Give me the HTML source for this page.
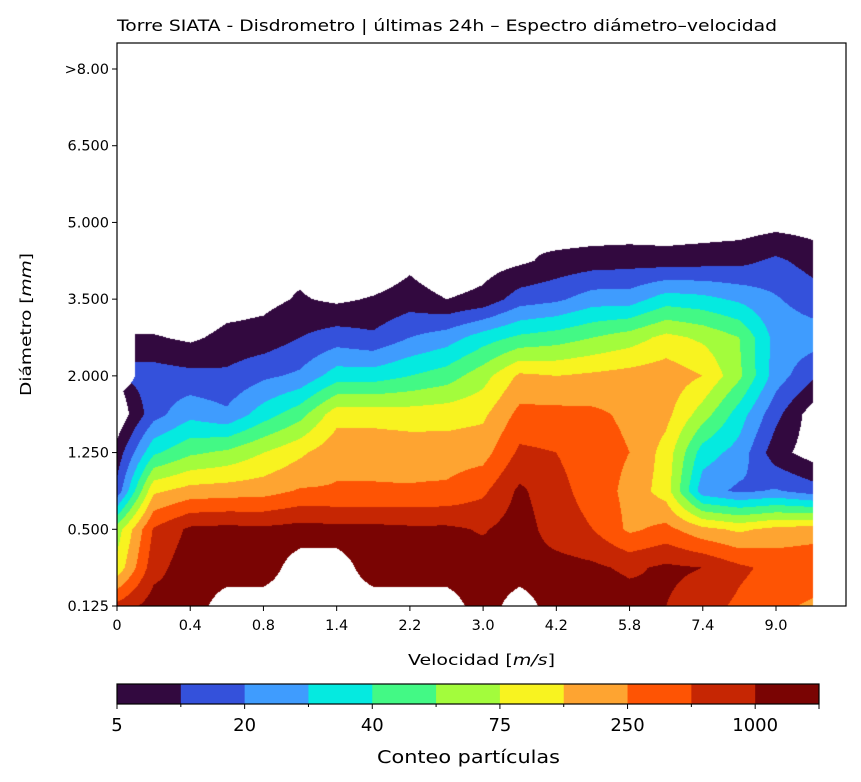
<!DOCTYPE html>
<html><head><meta charset="utf-8"><style>
body{margin:0;background:#fff;width:861px;height:782px;overflow:hidden;font-family:"Liberation Sans","DejaVu Sans",sans-serif}
#wrap{position:relative;width:861px;height:782px}
canvas{position:absolute;left:0;top:0}
svg{position:absolute;left:0;top:0}
text{font-family:"DejaVu Sans","Liberation Sans",sans-serif;fill:#000}
</style></head><body>
<div id="wrap">
<canvas id="cv" width="861" height="782"></canvas>
<svg id="sv" width="861" height="782"></svg>
</div>
<script>
// x tick labels (velocity bins) and y tick labels (diameter bins)
const xTickLabels = ["0","0.4","0.8","1.4","2.2","3.0","4.2","5.8","7.4","9.0"];
const yTickLabels = ["0.125","0.500","1.250","2.000","3.500","5.000","6.500",">8.00"];
const levelLabels = ["5","","20","","40","","75","","250","","1000",""];
const bandColors = ["#32093f","#3451db","#3f9cfe","#05eae0","#43f985","#a3fc3c","#f8f320","#fea431","#fe5404","#c62603","#7a0403"];
// count band value per grid node; columns = velocity bins, rows (bottom->top) = diameter bins; null = no data
const col0  = [9.3,6.3,5.5,1.3,0.4,-0.8,null,null,null,null,null];
const col1  = [10.5,9.6,9.1,6.8,3.8,1.6,1.5,0.1,-1,null,null];
const col2  = [10.3,10.6,10.2,7.4,4.8,2.7,1.3,-0.2,-1,null,null];
const col3  = [null,10.8,10.3,7.5,5.2,2.2,1.2,0.3,-0.5,null,null];
const col4  = [null,10.7,10.2,7.6,6.0,3.5,1.8,0.4,-0.3,null,null];
const col5  = [null,null,10.4,8.1,6.8,4.6,2.2,1.0,0.1,-0.3,null];
const col6  = [null,null,10.3,8.1,7.7,6.6,3.5,1.5,-0.2,-1,null];
const col7  = [null,10.3,10.3,8.1,7.7,6.6,3.5,1.2,0.1,-1,null];
const col8  = [null,10.5,10.2,8.1,7.6,6.5,4.0,2.0,0.5,-0.3,null];
const col9  = [null,10.2,10.2,8.2,7.5,6.6,4.5,2.5,0.0,-1,null];
const col10 = [10.5,10.5,9.9,8.8,7.6,6.8,5.6,3.5,0.3,-0.5,null];
const col11 = [null,10.3,10.5,10.2,9.2,8.3,7.2,4.2,1.5,-0.2,null];
const col12 = [10.8,10.4,9.5,9.3,9.0,8.3,7.0,4.5,1.8,0.3,-0.8];
const col13 = [10.7,10.2,9.0,8.6,8.5,8.2,7.2,5.0,2.5,0.5,-0.8];
const col14 = [10.5,9.8,7.8,7.7,8.0,7.8,7.4,5.5,2.5,0.6,-0.8];
const col15 = [10.0,10.2,8.3,6.5,6.6,7.3,7.6,6.3,3.5,0.5,-0.8];
const col16 = [9.4,10.0,7.3,2.4,3.5,5.5,7.0,5.8,3.3,0.6,-0.7];
const col17 = [8.8,9.2,6.8,1.8,2.6,3.5,5.2,5.0,2.8,0.7,-0.6];
const col18 = [8.3,8.7,7.3,2.1,0.4,1.3,2.5,2.6,2.1,1.2,-0.4];
const col19 = [7.8,8.8,7.5,1.5,-0.5,-0.5,1.2,2.5,1.5,0.6,-0.5];
const grid = [col0,col1,col2,col3,col4,col5,col6,col7,col8,col9,col10,col11,col12,col13,col14,col15,col16,col17,col18,col19];

const PL=117, PR=846, PT=43, PB=606;
const XSTEP=(776-117)/18, YSTEP=(606-69)/14;
function xPix(i){return PL+i*XSTEP;}
function yPix(j){return PB-j*YSTEP;}

// draw field
const cv=document.getElementById('cv'), ctx=cv.getContext('2d');
const img=ctx.createImageData(861,782);
function hex(c){return [parseInt(c.substr(1,2),16),parseInt(c.substr(3,2),16),parseInt(c.substr(5,2),16)];}
const rgb=bandColors.map(hex);
const NX=grid.length, NY=grid[0].length;
for(let py=PT;py<PB;py++){
  for(let px=PL;px<PR;px++){
    const u=(px+0.5-PL)/XSTEP, v=(PB-(py+0.5))/YSTEP;
    if(u>NX-1||v>NY-1) continue;
    let i=Math.min(Math.floor(u),NX-2), j=Math.min(Math.floor(v),NY-2);
    const fu=u-i, fv=v-j;
    const c=[[grid[i][j],(1-fu)*(1-fv)],[grid[i+1][j],fu*(1-fv)],[grid[i][j+1],(1-fu)*fv],[grid[i+1][j+1],fu*fv]];
    let ws=0,s=0,wn=0;
    for(const [val,w] of c){ if(val===null) wn+=w; else {ws+=w;s+=val*w;} }
    if(wn>0.5||ws===0) continue;
    const val=s/ws;
    if(val<0) continue;
    const b=Math.min(10,Math.floor(val));
    const k=(py*861+px)*4, col=rgb[b];
    img.data[k]=col[0];img.data[k+1]=col[1];img.data[k+2]=col[2];img.data[k+3]=255;
  }
}
ctx.putImageData(img,0,0);

// axes
const NS='http://www.w3.org/2000/svg', sv=document.getElementById('sv');
function el(t,a,txt){const e=document.createElementNS(NS,t);for(const k in a)e.setAttribute(k,a[k]);if(txt!==undefined)e.textContent=txt;sv.appendChild(e);return e;}
let e;
e=el('rect',{x:PL,y:PT,width:PR-PL,height:PB-PT,fill:'none',stroke:'#000','stroke-width':1.2});


e=el('text',{x:117,y:31,'font-size':16,textLength:660,lengthAdjust:'spacingAndGlyphs'},'Torre SIATA - Disdrometro | últimas 24h – Espectro diámetro–velocidad');


xTickLabels.forEach((t,k)=>{
  const x=xPix(2*k);
  e=el('line',{x1:x,x2:x,y1:PB,y2:PB+5,stroke:'#000','stroke-width':1});
  
  
  e=el('text',{x:x,y:PB+24,'font-size':14.5,'text-anchor':'middle'},t);
  
  
});
yTickLabels.forEach((t,k)=>{
  const y=yPix(2*k);
  e=el('line',{x1:PL-5,x2:PL,y1:y,y2:y,stroke:'#000','stroke-width':1});
  
  
  e=el('text',{x:PL-8,y:y+5,'font-size':14.5,'text-anchor':'end'},t);
  
  
});
e=el('text',{x:408,y:665,'font-size':15.5,textLength:147,lengthAdjust:'spacingAndGlyphs'});
e.innerHTML='Velocidad [<tspan font-style="italic">m/s</tspan>]';


e=el('text',{x:-396,y:31,'font-size':15.5,transform:'rotate(-90)',textLength:143,lengthAdjust:'spacingAndGlyphs'});
e.innerHTML='Diámetro [<tspan font-style="italic">mm</tspan>]';



// colorbar
const CL=117, CR=819, CT=684, CB=704, bw=(CR-CL)/bandColors.length;
bandColors.forEach((c,k)=>{
  e=el('rect',{x:CL+k*bw,y:CT,width:bw+0.5,height:CB-CT,fill:c});
  
  
});
e=el('rect',{x:CL,y:CT,width:CR-CL,height:CB-CT,fill:'none',stroke:'#000','stroke-width':1.2});


levelLabels.forEach((t,k)=>{
  const x=CL+k*bw;
  e=el('line',{x1:x,x2:x,y1:CB,y2:CB+(t?5:3),stroke:'#000','stroke-width':1});
  
  
  if(t){
    e=el('text',{x:x,y:CB+27,'font-size':18,'text-anchor':'middle'},t);
    
    
  }
});
e=el('line',{x1:CR,x2:CR,y1:CB,y2:CB+5,stroke:'#000','stroke-width':1});


e=el('text',{x:377,y:763,'font-size':18,textLength:183,lengthAdjust:'spacingAndGlyphs'},'Conteo partículas');


</script>
</body></html>
